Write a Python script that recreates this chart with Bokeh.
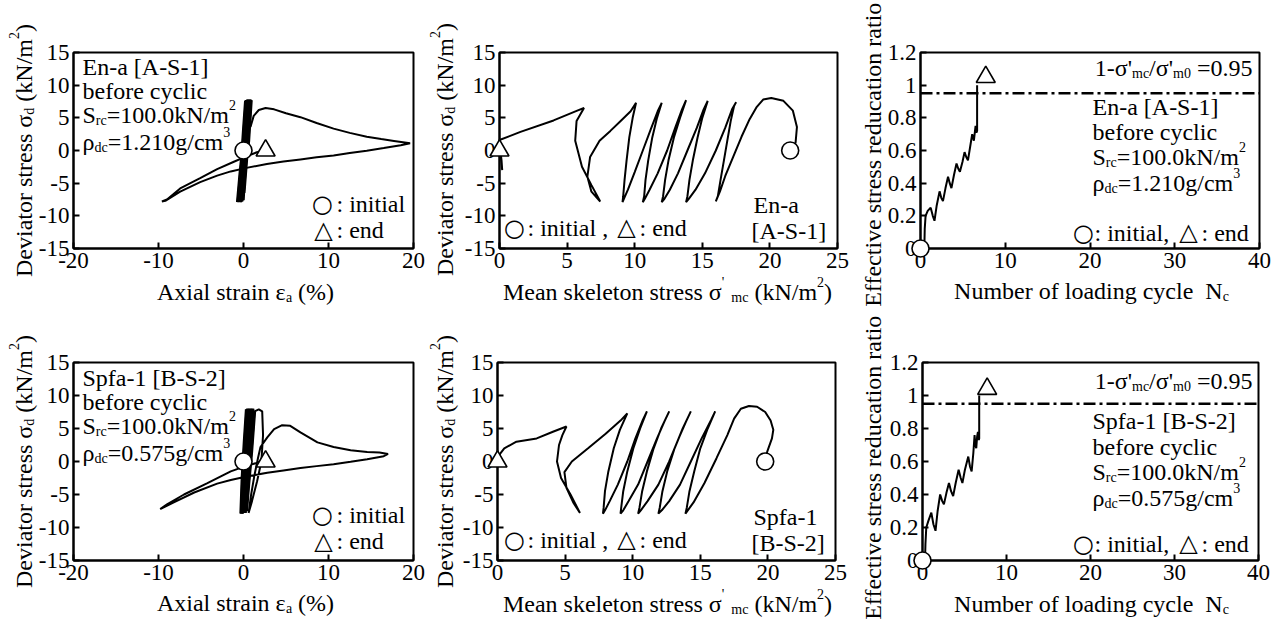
import math
from bokeh.plotting import figure
from bokeh.models import Range1d, FixedTicker, Span
from bokeh.layouts import column, row
from bokeh.embed import file_html
from bokeh.resources import INLINE
from bokeh.core.properties import value

SERIF = "Liberation Serif"
SYM = "DejaVu Sans"

# ---------------- data ----------------
# Panel 1: En-a [A-S-1] axial strain (%) vs deviator stress (kN/m2)
ena_eps = [0.0, 0.1, 0.25, 0.0, -0.3, -0.7, -0.4, -0.05, 0.35, 0.15, -0.1, -0.35, -0.15, 0.2, 0.5,
           0.3, 0.05, -0.2, 0.0, 0.35, 0.65, 0.45, 0.2, -0.05, 0.15, 0.5, 0.8, 0.6, 0.35, 0.05, 0.25,
           0.6, 0.9, 0.72, 0.82, 1.2, 1.8, 2.6, 3.6, 5.0, 6.7, 8.6, 10.6, 12.5, 14.5, 16.2, 17.7, 19.6,
           18.5, 16.5, 14.5, 12.5, 10.6, 8.6, 6.7, 4.7, 2.75, 0.2, -1.5, -3.1, -5.1, -7.45, -9.2, -9.6,
           -9.0, -7.45, -5.1, -3.1, -1.2, 0.2, 1.57, 2.6]
ena_sig = [0.0, 3.5, 7.6, 3.0, -3.0, -7.9, -3.5, 1.0, 7.7, 3.0, -2.5, -7.9, -3.5, 1.0, 7.8,
           3.0, -2.5, -7.8, -3.5, 1.0, 7.8, 3.0, -2.5, -7.6, -3.5, 1.0, 7.8, 3.0, -1.5, -6.5, -2.5,
           1.5, 7.7, 4.0, 3.6, 5.3, 6.2, 6.5, 6.3, 5.7, 5.1, 4.2, 3.35, 2.7, 2.1, 1.75, 1.46, 1.1,
           0.8, 0.37, -0.03, -0.4, -0.77, -1.05, -1.36, -1.7, -2.06, -2.7, -3.2, -3.84, -4.84, -6.3, -7.7, -7.8,
           -7.5, -5.8, -4.24, -2.85, -1.76, -0.97, -0.27, 0.0]
ena_band_len = 33          # first points = narrow cyclic loops around zero strain
ena_start_eps, ena_start_sig = [0.0], [0.0]
ena_end_eps, ena_end_sig = [2.6], [0.0]

# Panel 2: En-a mean skeleton stress vs deviator stress
ena_p = [21.5, 21.9, 22.0, 21.7, 21.0, 20.1, 19.5, 19.0, 18.5, 17.9, 17.3, 16.7, 16.3, 16.0,
         16.15, 16.35, 16.6, 16.85, 17.1, 17.35, 17.5,
         17.2, 16.7, 16.0, 15.2, 14.5, 14.0, 13.8,
         13.9, 14.05, 14.3, 14.65, 15.0, 15.4,
         15.1, 14.6, 13.9, 13.2, 12.6, 12.2, 12.0,
         12.1, 12.25, 12.5, 12.9, 13.35, 13.8,
         13.5, 13.0, 12.4, 11.7, 11.1, 10.75, 10.6,
         10.7, 10.8, 11.0, 11.3, 11.65, 12.0,
         11.7, 11.2, 10.6, 10.0, 9.5, 9.2, 9.1,
         9.15, 9.25, 9.4, 9.6, 9.85, 10.1,
         9.7, 9.0, 8.2, 7.4, 6.7, 6.5, 6.8, 7.45,
         6.8, 6.1, 5.6, 5.7, 6.25,
         5.75, 4.0, 1.55, 0.0, 0.05, 0.15, 0.2, 0.1, 0.0]
ena_q = [0.0, 1.2, 3.6, 6.1, 7.6, 8.05, 7.8, 6.6, 4.8, 2.1, -0.9, -3.9, -6.3, -7.8,
         -7.0, -4.5, -1.5, 1.5, 4.5, 6.8, 7.4,
         6.3, 3.5, 0.0, -3.5, -6.0, -7.4, -7.9,
         -7.0, -4.5, -1.5, 2.0, 5.0, 7.6,
         6.3, 3.5, 0.0, -3.5, -6.0, -7.4, -7.9,
         -7.0, -4.5, -1.5, 2.0, 5.0, 7.7,
         6.3, 3.5, 0.0, -3.5, -6.0, -7.4, -7.9,
         -7.0, -4.5, -1.5, 2.0, 5.0, 7.3,
         6.0, 3.3, 0.0, -3.3, -6.0, -7.4, -7.9,
         -7.0, -4.5, -1.5, 2.0, 5.0, 7.3,
         6.0, 4.6, 3.0, 1.5, -1.0, -4.0, -6.3, -7.8,
         -5.3, -2.5, 1.5, 4.5, 6.5,
         6.1, 4.6, 2.85, 1.6, 0.3, -1.5, -3.0, -1.0, 0.0]
ena_p_start, ena_q_start = [21.5], [0.0]
ena_p_end, ena_q_end = [0.0], [0.0]

# Panel 3: En-a effective stress reduction ratio vs number of cycles
ena_N = [0.45, 0.5, 0.6, 0.85, 1.2, 1.45, 1.65, 1.9, 2.25, 2.45, 2.65, 2.95, 3.25, 3.45, 3.65,
         3.95, 4.25, 4.45, 4.65, 4.95, 5.2, 5.4, 5.6, 5.85, 6.1, 6.2, 6.3, 6.45, 6.5, 6.6, 6.68, 6.68]
ena_R = [0.0, 0.12, 0.2, 0.23, 0.25, 0.2, 0.17, 0.26, 0.35, 0.31, 0.29, 0.37, 0.44, 0.40, 0.37,
         0.45, 0.52, 0.49, 0.47, 0.53, 0.59, 0.56, 0.54, 0.62, 0.70, 0.68, 0.66, 0.73, 0.75, 0.71, 0.72, 1.0]
ena_N_start, ena_R_start = [0.0], [0.0]
ena_N_end, ena_R_end = [7.7], [1.05]

# Panel 4: Spfa-1 [B-S-2]
sp_eps = [0.0, 0.2, 0.35, 0.1, -0.15, -0.3, -0.05, 0.25, 0.5, 0.3, 0.05, -0.15, 0.1, 0.4, 0.7,
          0.5, 0.25, 0.05, 0.3, 0.6, 0.9, 0.7, 0.45, 0.2, 0.45, 0.8, 1.1, 0.9, 0.6, 0.35, 0.6,
          0.95, 1.3, 1.8, 2.2, 2.3, 2.1, 1.6, 1.0, 0.6, 0.9, 1.3, 1.7, 2.0, 2.8, 3.6, 4.55, 5.5,
          6.7, 8.7, 10.6, 12.6, 14.55, 16.0, 17.0, 16.5, 14.55, 12.6, 10.6, 8.6, 6.7, 4.7, 2.8,
          0.24, -1.5, -3.1, -5.8, -8.2, -9.8, -9.0, -7.0, -4.3, -1.5, 0.24, 2.0, 2.6]
sp_sig = [0.0, 4.0, 7.9, 3.0, -2.5, -7.9, -3.5, 1.5, 8.0, 3.0, -2.5, -7.9, -3.5, 1.5, 8.0,
          3.0, -2.5, -7.8, -3.5, 1.5, 8.0, 3.0, -2.5, -7.8, -3.5, 1.5, 8.0, 3.0, -2.5, -7.5, -3.5,
          1.5, 7.6, 7.9, 7.6, 4.0, 0.0, -3.0, -6.0, -7.8, -5.0, -2.0, 0.5, 2.2, 3.65, 4.9, 5.5, 5.4,
          4.4, 2.9, 2.2, 1.7, 1.43, 1.35, 1.15, 0.8, 0.35, -0.05, -0.4, -0.7, -1.0, -1.35, -1.7,
          -2.3, -2.8, -3.35, -4.7, -6.2, -7.2, -6.5, -5.0, -3.3, -1.5, -0.7, -0.05, 0.1]
sp_band_len = 33
sp_start_eps, sp_start_sig = [0.0], [0.0]
sp_end_eps, sp_end_sig = [2.6], [0.0]

# Panel 5: Spfa-1 stress path
sp_p = [19.8, 19.95, 20.3, 20.4, 20.2, 19.8, 19.2, 18.6, 18.0, 17.5, 17.0, 16.2, 15.3, 14.5, 13.9,
        14.0, 14.2, 14.55, 15.0, 15.55, 16.1,
        15.8, 15.1, 14.3, 13.5, 12.7, 12.15, 11.9,
        12.0, 12.2, 12.55, 13.1, 13.7, 14.3,
        14.0, 13.4, 12.7, 11.9, 11.1, 10.6, 10.4,
        10.5, 10.7, 11.05, 11.55, 12.1, 12.7,
        12.4, 11.8, 11.1, 10.4, 9.7, 9.3, 9.1,
        9.15, 9.3, 9.6, 10.05, 10.55, 11.05,
        10.75, 10.2, 9.6, 8.9, 8.3, 7.95, 7.8,
        7.85, 7.95, 8.2, 8.6, 9.05, 9.6,
        9.1, 8.0, 6.7, 5.5, 4.95, 5.1, 5.6, 6.1,
        5.4, 4.7, 4.4, 4.55, 4.8, 5.1,
        4.1, 2.9, 1.4, 0.5, 0.2, 0.0]
sp_q = [0.0, 1.5, 3.5, 4.8, 6.2, 7.5, 8.3, 8.4, 8.0, 6.5, 4.0, 0.5, -3.3, -6.2, -7.9,
        -7.0, -4.5, -1.5, 2.0, 5.0, 7.6,
        6.3, 3.5, 0.0, -3.5, -6.0, -7.4, -7.9,
        -7.0, -4.5, -1.5, 2.0, 5.0, 7.6,
        6.3, 3.5, 0.0, -3.5, -6.0, -7.4, -7.9,
        -7.0, -4.5, -1.5, 2.0, 5.0, 7.6,
        6.3, 3.5, 0.0, -3.5, -6.0, -7.4, -7.9,
        -7.0, -4.5, -1.5, 2.0, 5.0, 7.6,
        6.3, 3.5, 0.0, -3.5, -6.0, -7.4, -7.9,
        -7.0, -4.5, -1.5, 2.0, 4.8, 7.3,
        6.2, 4.2, 2.0, 0.0, -1.6, -4.0, -6.2, -7.8,
        -5.0, -2.5, 0.0, 2.5, 4.0, 5.3,
        4.5, 3.5, 3.0, 2.0, 1.2, 0.0]
sp_p_start, sp_q_start = [19.8], [0.0]
sp_p_end, sp_q_end = [0.0], [0.0]

# Panel 6: Spfa-1 effective stress reduction ratio
sp_N = [0.3, 0.35, 0.45, 0.7, 1.05, 1.3, 1.55, 1.8, 2.1, 2.35, 2.55, 2.85, 3.15, 3.4, 3.65,
        3.95, 4.3, 4.55, 4.75, 5.05, 5.45, 5.65, 5.85, 6.05, 6.2, 6.3, 6.4, 6.5, 6.6, 6.7, 6.75, 6.75]
sp_R = [0.0, 0.1, 0.2, 0.24, 0.29, 0.22, 0.18, 0.3, 0.40, 0.36, 0.34, 0.41, 0.47, 0.42, 0.39,
        0.47, 0.55, 0.50, 0.47, 0.55, 0.63, 0.57, 0.54, 0.65, 0.76, 0.70, 0.68, 0.75, 0.78, 0.73, 0.74, 1.0]
sp_N_start, sp_R_start = [0.0], [0.0]
sp_N_end, sp_R_end = [7.7], [1.04]

threshold = 0.95

strain_ticks = [-20, -10, 0, 10, 20]
strain_labels = ["-20", "-10", "0", "10", "20"]
stress_ticks = [-15, -10, -5, 0, 5, 10, 15]
stress_labels = ["-15", "-10", "-5", "0", "5", "10", "15"]
p_ticks = [0, 5, 10, 15, 20, 25]
p_labels = ["0", "5", "10", "15", "20", "25"]
n_ticks = [0, 10, 20, 30, 40]
n_labels = ["0", "10", "20", "30", "40"]
r_ticks = [0, 0.2, 0.4, 0.6, 0.8, 1, 1.2]
r_labels = ["0", "0.2", "0.4", "0.6", "0.8", "1", "1.2"]

# ---------------- text metrics (Times / Liberation Serif) ----------------
TW = dict(zip(" !()%'-./0123456789=[]:,", [250, 333, 333, 333, 833, 180, 333, 250, 278] + [500] * 10 + [564, 333, 333, 278, 250]))
TW.update(zip("ABCDEFGHIJKLMNOPQRSTUVWXYZ", [722, 667, 667, 722, 611, 556, 722, 722, 333, 389, 722, 611, 889,
                                             722, 722, 556, 722, 667, 556, 611, 722, 722, 944, 722, 722, 611]))
TW.update(zip("abcdefghijklmnopqrstuvwxyz", [444, 500, 444, 500, 444, 333, 500, 500, 278, 278, 500, 278, 778,
                                             500, 500, 500, 500, 333, 389, 278, 500, 500, 722, 500, 500, 444]))
TW.update({"σ": 540, "ρ": 500, "ε": 430})

BASE_H = 7   # renderer puts "alphabetic" anchor this many px below the true baseline
BASE_V = 8


def tw(s, fs):
    return sum(TW.get(c, 500) for c in s) * fs / 1000.0


def make_fig(geo, xr, yr, xticks, xlabels, yticks, ylabels):
    gx, gy, w, h, left, right, top, bottom = geo
    p = figure(width=w, height=h, output_backend="svg", toolbar_location=None,
               x_range=Range1d(*xr), y_range=Range1d(*yr),
               min_border_left=left, min_border_right=right,
               min_border_top=top, min_border_bottom=bottom)
    p.xgrid.visible = False
    p.ygrid.visible = False
    p.outline_line_color = "black"
    p.outline_line_width = 2
    p.background_fill_color = "white"
    p.border_fill_color = "white"
    for ax, t, l in ((p.xaxis[0], xticks, xlabels), (p.yaxis[0], yticks, ylabels)):
        ax.axis_line_width = 2
        ax.axis_line_color = "black"
        ax.major_tick_in = 6
        ax.major_tick_out = 0
        ax.major_tick_line_width = 2
        ax.minor_tick_line_color = None
        ax.major_label_text_font = SERIF
        ax.major_label_text_font_size = "23px"
        ax.major_label_text_color = "black"
        ax.major_label_standoff = 4
        ax.ticker = FixedTicker(ticks=t)
        ax.major_label_overrides = dict(zip(t, l))
    # frame anchor: data corner (xr[0], yr[0]) sits at local (left, h - bottom)
    p._geo = (gx, gy, left, h - bottom, xr[0], yr[0])
    return p


def put(p, X, Y, t, size, font, align="left", baseline="alphabetic", ang=0.0):
    gx, gy, left, fb, x0, y0 = p._geo
    p.text(x=[x0], y=[y0], text=[t.replace(" ", "\u00a0")], x_offset=X - gx - left, y_offset=Y - (gy + fb),
           text_font=value(font), text_font_size=value(f"{size}px"), text_color="black",
           text_align=align, text_baseline=baseline, angle=ang, level="overlay")


def rich(p, X, Y, segs, fs=24, align="left", vertical=False, font=SERIF):
    sfs = round(fs * 0.6)
    ws = [tw(t, fs if k == "n" else sfs) for t, k in segs]
    tot = sum(ws)
    pos = {"left": 0.0, "center": -tot / 2, "right": -tot}[align]
    for (t, k), w in zip(segs, ws):
        size = fs if k == "n" else sfs
        off = {"n": 0.0, "b": -0.27 * fs, "p": 0.38 * fs}[k]
        if vertical:
            put(p, X - off - BASE_V, Y - pos, t, size, font, ang=math.pi / 2)
        else:
            put(p, X + pos, Y - off - BASE_H, t, size, font)
        pos += w


def sym(p, X, Y, s, fs=24):
    put(p, X, Y, s, fs, SYM, align="center", baseline="middle")


def curve(p, x, y, w=2.0):
    p.line(x, y, line_color="black", line_width=w)


def markers(p, xs, ys, xe, ye):
    p.scatter(xs, ys, marker="circle", size=17, fill_color="white", line_color="black",
              line_width=1.6, level="overlay")
    p.scatter(xe, ye, marker="triangle", size=19, fill_color="white", line_color="black",
              line_width=1.6, level="overlay")


Y_SIG = [("Deviator stress σ", "n"), ("d", "b"), (" (kN/m", "n"), ("2", "p"), (")", "n")]
X_EPS = [("Axial strain ε", "n"), ("a", "b"), (" (%)", "n")]
X_P = [("Mean skeleton stress σ", "n"), ("'", "p"), ("  mc", "b"), (" (kN/m", "n"), ("2", "p"), (")", "n")]
Y_R = [("Effective stress reducation ratio", "n")]
X_N = [("Number of loading cycle  N", "n"), ("c", "b")]
THR = [("1-σ'", "n"), ("mc", "b"), ("/σ'", "n"), ("m0", "b"), (" =0.95", "n")]


def info_block(p, X, ys, name, rho):
    rich(p, X, ys[0], [(name, "n")])
    rich(p, X, ys[1], [("before cyclic", "n")])
    rich(p, X, ys[2], [("S", "n"), ("rc", "b"), ("=100.0kN/m", "n"), ("2", "p")])
    rich(p, X, ys[3], [("ρ", "n"), ("dc", "b"), ("=" + rho + "g/cm", "n"), ("3", "p")])


def stress_strain(geo, eps, sig, nband, es, ss, ee, se, name, rho, dy):
    p = make_fig(geo, (-20, 20), (-15, 15), strain_ticks, strain_labels, stress_ticks, stress_labels)
    curve(p, eps, sig)
    curve(p, eps[:nband], sig[:nband], w=3.2)
    markers(p, es, ss, ee, se)
    rich(p, 31, 150 + dy, Y_SIG, vertical=True, align="center")
    rich(p, 245, 298 + dy, X_EPS, align="center")
    info_block(p, 82, [73 + dy, 97 + dy, 121 + dy, 148 + dy], name, rho)
    sym(p, 322, 203 + dy, "○")
    rich(p, 336, 210 + dy, [(": initial", "n")])
    sym(p, 323, 229 + dy, "△")
    rich(p, 336, 236 + dy, [(": end", "n")])
    return p


def stress_path(geo, pp, qq, ps, qs, pe, qe, name, tag, dy):
    p = make_fig(geo, (0, 25), (-15, 15), p_ticks, p_labels, stress_ticks, stress_labels)
    curve(p, pp, qq)
    markers(p, ps, qs, pe, qe)
    rich(p, 452, 149 + dy, Y_SIG, vertical=True, align="center")
    rich(p, 667, 298 + dy, X_P, align="center")
    sym(p, 514, 227 + dy, "○")
    rich(p, 527, 234 + dy, [(": initial ,", "n")])
    sym(p, 626, 226 + dy, "△")
    rich(p, 639, 234 + dy, [(": end", "n")])
    rich(p, 753, 211 + dy, [(name, "n")])
    rich(p, 751, 237 + dy, [(tag, "n")])
    return p


def ratio(geo, nn, rr, ns, rs, ne, re_, name, rho, dy, ys):
    p = make_fig(geo, (0, 40), (0, 1.2), n_ticks, n_labels, r_ticks, r_labels)
    p.add_layout(Span(location=threshold, dimension="width", line_color="black",
                      line_width=2.5, line_dash="12 4 3 4"))
    curve(p, nn, rr)
    markers(p, ns, rs, ne, re_)
    rich(p, 880, 155 + dy, Y_R, vertical=True, align="center")
    rich(p, 1091, 298 + dy, X_N, align="center")
    rich(p, 1252, ys[0], THR, align="right")
    info_block(p, 1092, ys[1:5], name, rho)
    sym(p, 1083, ys[5] - 7, "○")
    rich(p, 1094, ys[5], [(": initial,", "n")])
    sym(p, 1188, ys[5] - 8, "△")
    rich(p, 1201, ys[5], [(": end", "n")])
    return p


# geometry: (gx, gy, width, height, left, right, top, bottom)
p1 = stress_strain((0, 0, 426, 312, 73, 13, 47, 64), ena_eps, ena_sig, ena_band_len, ena_start_eps,
                   ena_start_sig, ena_end_eps, ena_end_sig, "En-a [A-S-1]", "1.210", 0)
p2 = stress_path((426, 0, 426, 312, 73, 15, 47, 64), ena_p, ena_q, ena_p_start, ena_q_start,
                 ena_p_end, ena_q_end, "En-a", "[A-S-1]", 0)
p3 = ratio((852, 0, 430, 312, 68, 23, 52, 63), ena_N, ena_R, ena_N_start, ena_R_start,
           ena_N_end, ena_R_end, "En-a [A-S-1]", "1.210", 0, [75, 114, 139, 164, 190, 240])
p4 = stress_strain((0, 312, 426, 312, 73, 13, 47, 63), sp_eps, sp_sig, sp_band_len, sp_start_eps,
                   sp_start_sig, sp_end_eps, sp_end_sig, "Spfa-1 [B-S-2]", "0.575", 312)
p5 = stress_path((426, 312, 426, 312, 71, 17, 46, 64), sp_p, sp_q, sp_p_start, sp_q_start,
                 sp_p_end, sp_q_end, "Spfa-1", "[B-S-2]", 312)
p6 = ratio((852, 312, 430, 312, 70, 24, 50, 64), sp_N, sp_R, sp_N_start, sp_R_start,
           sp_N_end, sp_R_end, "Spfa-1 [B-S-2]", "0.575", 312, [387, 427, 453, 478, 504, 550])

layout = column(row(p1, p2, p3), row(p4, p5, p6))
open("out.html", "w").write(file_html(layout, INLINE, "chart"))
